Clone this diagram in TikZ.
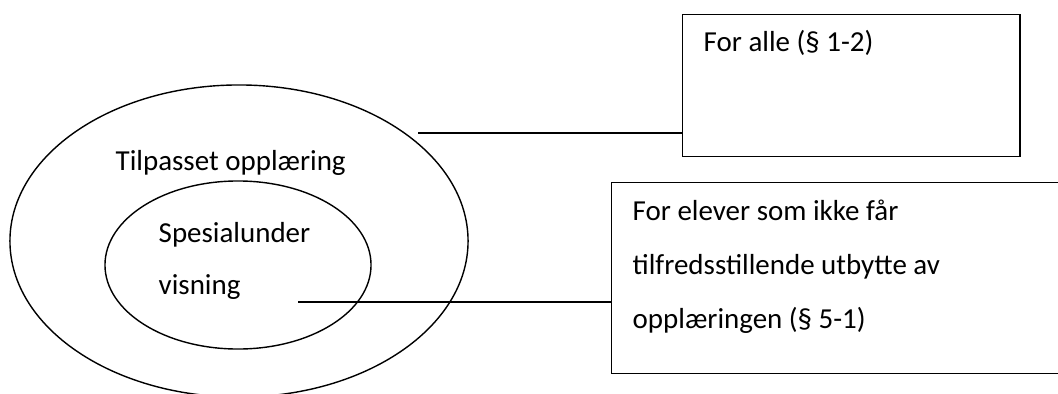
\documentclass[tikz,border=0pt]{standalone}
\usepackage{fontspec}
\setmainfont{Carlito}
\usetikzlibrary{shapes.geometric}
\begin{document}
\begin{tikzpicture}[x=0.025cm,y=-0.025cm,line width=1pt,
  txt/.style={anchor=base west,inner sep=0pt,font=\fontsize{20.6}{25}\selectfont},
  ring/.style={draw,ellipse,inner sep=0pt},
  box/.style={draw,rectangle,inner sep=0pt,anchor=north west}]
\useasboundingbox (0,0) rectangle (1058,394);
\clip (0,0) rectangle (1058,394);

% Ellipses
\node[ring,minimum width=11.45cm,minimum height=7.8cm] (outer) at (239,241) {};
\node[ring,minimum width=6.65cm,minimum height=4.2cm] (inner) at (238,265) {};

% Texts in the ellipses
\node[txt] (tilpasset) at (115,170) {Tilpasset opplæring};
\node[txt] (spes) at (158,242) {Spesialunder};
\node[txt] (visning) at (158,294) {visning};

% Boxes
\node[box,minimum width=8.425cm,minimum height=3.55cm] (alle) at (682,14) {};
\node[box,minimum width=11.35cm,minimum height=4.775cm] (elever) at (611,182) {};

\node[txt] (alleTxt) at (703,52) {For alle (§ 1-2)};
\node[txt] (elever1) at (632,220) {For elever som ikke får};
\node[txt] (elever2) at (632,274) {tilfredsstillende utbytte av};
\node[txt] (elever3) at (632,328) {opplæringen (§ 5-1)};

% Connectors
\coordinate (alleEnd) at (418,133);
\coordinate (spesEnd) at (298,302);
\draw (alleEnd) -- (alleEnd -| alle.west);
\draw (spesEnd) -- (spesEnd -| elever.west);

\end{tikzpicture}
\end{document}
